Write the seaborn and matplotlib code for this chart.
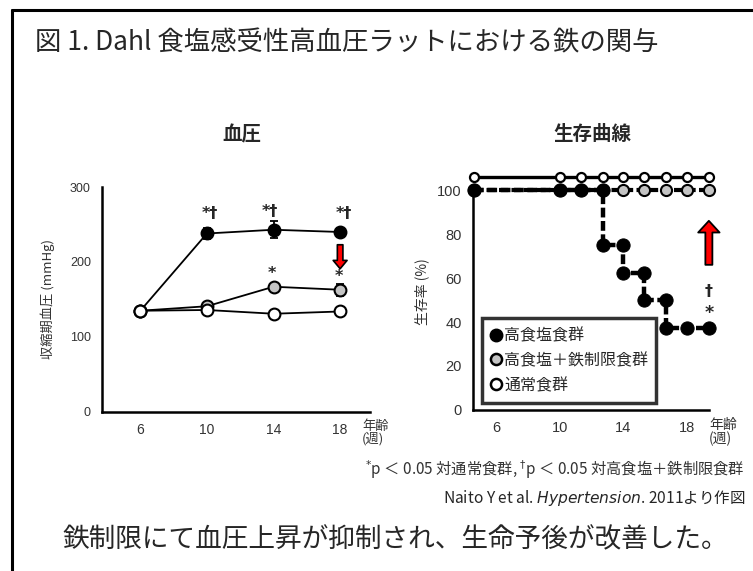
import matplotlib
matplotlib.use("Agg")
import matplotlib.pyplot as plt
import seaborn as sns
from matplotlib.lines import Line2D

sns.set_style("white")
plt.rcParams["font.family"] = ["Noto Sans CJK JP", "DejaVu Sans"]

# 血圧 (mmHg, mean and error)
bp_weeks = [6, 10, 14, 18]
bp_high_salt = [135, 238, 243, 240]
bp_high_salt_err = [2, 7, 11, 5]
bp_iron_restrict = [135, 141, 167, 163]
bp_iron_restrict_err = [2, 3, 3, 8]
bp_normal = [135, 136, 131, 134]
bp_normal_err = [1, 1, 1, 1]

# 生存曲線 (%)
surv_high_salt_weeks = [4.6, 10, 11.3, 12.7, 12.7, 14, 14, 15.3, 15.3, 16.7, 16.7, 18, 19.4]
surv_high_salt = [100, 100, 100, 100, 75, 75, 62.5, 62.5, 50, 50, 37.5, 37.5, 37.5]
surv_iron_weeks = [4.6, 10, 11.3, 12.7, 14, 15.3, 16.7, 18, 19.4]
surv_iron = [100, 100, 100, 100, 100, 100, 100, 100, 100]
surv_normal_weeks = [4.6, 10, 11.3, 12.7, 14, 15.3, 16.7, 18, 19.4]
surv_normal = [100, 100, 100, 100, 100, 100, 100, 100, 100]
normal_offset = 6  # drawn slightly above so it does not hide the other lines

group_labels = ["高食塩食群", "高食塩＋鉄制限食群", "通常食群"]
gray = "#c4c4c4"
tick_font = "Liberation Sans"

fig = plt.figure(figsize=(7.53, 5.71), dpi=100)

# frame lines of the slide
fig.add_artist(Line2D([12 / 753, 1], [1 - 10 / 571, 1 - 10 / 571], color="black", lw=2.2))
fig.add_artist(Line2D([12 / 753, 12 / 753], [0, 1 - 10 / 571], color="black", lw=2.2))

fig.text(35 / 753, 0.925, "図 1. Dahl 食塩感受性高血圧ラットにおける鉄の関与",
         fontsize=19, va="center", ha="left")
fig.text(242 / 753, 1 - 135 / 571, "血圧", fontsize=14, fontweight="bold", ha="center", va="center")
fig.text(592 / 753, 1 - 135 / 571, "生存曲線", fontsize=14, fontweight="bold", ha="center", va="center")

# ---- left: blood pressure
ax1 = fig.add_axes([0.1355, 0.2785, 0.356, 0.394])
for vals, errs, face, z in [
    (bp_high_salt, bp_high_salt_err, "black", 3),
    (bp_iron_restrict, bp_iron_restrict_err, gray, 4),
    (bp_normal, bp_normal_err, "white", 5),
]:
    ax1.errorbar(bp_weeks, vals, yerr=errs, fmt="none", ecolor="black",
                 elinewidth=1.3, capsize=3, capthick=1.3, zorder=z)
    sns.lineplot(x=bp_weeks, y=vals, ax=ax1, color="black", linewidth=1.3,
                 marker="o", markersize=8.5, markerfacecolor=face,
                 markeredgecolor="black", markeredgewidth=1.5, zorder=z)

ax1.set_xlim(3.7, 19.8)
ax1.set_ylim(0, 300)
ax1.set_xticks(bp_weeks)
ax1.set_yticks([0, 100, 200, 300])
ax1.set_ylabel("収縮期血圧 (mmHg)", fontsize=9.5, color="#333333", labelpad=11)
for lab in ax1.get_xticklabels():
    lab.set_fontfamily(tick_font)
    lab.set_fontsize(10)
for lab in ax1.get_yticklabels():
    lab.set_fontfamily(tick_font)
    lab.set_fontsize(9)
ax1.text(0.97, -0.035, "年齢\n(週)", transform=ax1.transAxes, fontsize=9.5,
         ha="left", va="top", linespacing=0.95, color="#333333")

for x, y, s in [(10.15, 265, "*†"), (13.8, 267, "*†"), (18.2, 264, "*†"),
                (13.9, 184, "*"), (17.9, 180, "*")]:
    ax1.text(x, y, s, fontsize=11.5, fontweight="bold", family="DejaVu Sans",
             ha="center", va="center")
ax1.annotate("", xy=(18, 191), xytext=(18, 223),
             arrowprops=dict(arrowstyle="simple,head_length=0.6,head_width=1.0,tail_width=0.4",
                             fc="red", ec="black", lw=1.2, mutation_scale=10,
                             shrinkA=0, shrinkB=0))

# ---- right: survival
ax2 = fig.add_axes([0.628, 0.282, 0.3134, 0.416])
sns.lineplot(x=surv_iron_weeks, y=surv_iron, ax=ax2, color="black", linewidth=3,
             linestyle=(0, (2.2, 0.8)), marker="o", markersize=8, markerfacecolor=gray,
             markeredgecolor="black", markeredgewidth=1.5, zorder=3, clip_on=False)
sns.lineplot(x=surv_high_salt_weeks, y=surv_high_salt, ax=ax2, color="black",
             linewidth=3.2, linestyle=(0, (2.2, 0.8)), marker="o", markersize=9.5,
             markerfacecolor="black", markeredgecolor="black", estimator=None,
             sort=False, zorder=4, clip_on=False)
sns.lineplot(x=surv_normal_weeks, y=[v + normal_offset for v in surv_normal], ax=ax2,
             color="black", linewidth=2.4, marker="o", markersize=6.5,
             markerfacecolor="white", markeredgecolor="black", markeredgewidth=1.6,
             zorder=5, clip_on=False)

ax2.set_xlim(4.5, 19.4)
ax2.set_ylim(0, 108)
ax2.spines["left"].set_bounds(0, 100)
ax2.set_xticks([6, 10, 14, 18])
ax2.set_yticks([0, 20, 40, 60, 80, 100])
ax2.set_ylabel("生存率 (%)", fontsize=10, color="#333333", labelpad=6)
for lab in ax2.get_xticklabels() + ax2.get_yticklabels():
    lab.set_fontfamily(tick_font)
    lab.set_fontsize(10.5)
ax2.text(1.0, -0.035, "年齢\n(週)", transform=ax2.transAxes, fontsize=10,
         ha="left", va="top", linespacing=0.95, color="#333333")

ax2.text(19.4, 54, "†", fontsize=11.5, fontweight="bold", family="DejaVu Sans",
         ha="center", va="center")
ax2.text(19.4, 44, "*", fontsize=12.5, fontweight="bold", family="DejaVu Sans",
         ha="center", va="center")
ax2.annotate("", xy=(19.4, 86), xytext=(19.4, 66),
             arrowprops=dict(arrowstyle="simple,head_length=0.6,head_width=1.1,tail_width=0.36",
                             fc="red", ec="black", lw=1.3, mutation_scale=14,
                             shrinkA=0, shrinkB=0))

handles = [
    Line2D([], [], linestyle="none", marker="o", markersize=9, markerfacecolor="black",
           markeredgecolor="black"),
    Line2D([], [], linestyle="none", marker="o", markersize=8, markerfacecolor=gray,
           markeredgecolor="black", markeredgewidth=1.8),
    Line2D([], [], linestyle="none", marker="o", markersize=8, markerfacecolor="white",
           markeredgecolor="black", markeredgewidth=1.8),
]
leg = ax2.legend(handles, group_labels, loc="lower left",
                 bbox_to_anchor=(0.038, 0.03, 0.74, 0.37), mode="expand",
                 borderaxespad=0, frameon=True, fancybox=False, fontsize=11.5,
                 handlelength=0.7, handletextpad=0.15, labelspacing=0.5,
                 borderpad=0.55)
leg.get_frame().set_edgecolor("black")
leg.get_frame().set_linewidth(2.5)
leg.set_zorder(10)

for ax in (ax1, ax2):
    sns.despine(ax=ax)
    for side in ("left", "bottom"):
        ax.spines[side].set_color("black")
        ax.spines[side].set_linewidth(1.8)
    ax.tick_params(length=3, width=1.5, direction="out", color="black",
                   labelcolor="#333333", pad=5)

fig.text(745 / 753, 1 - 470 / 571,
         r"$^{*}$p ＜ 0.05 対通常食群, $^{\dagger}$p ＜ 0.05 対高食塩＋鉄制限食群",
         fontsize=11, ha="right", va="center", color="#333333")
fig.text(745 / 753, 1 - 498 / 571,
         r"Naito Y et al. $\mathit{Hypertension}$. 2011より作図",
         fontsize=11.2, ha="right", va="center")
fig.text(62 / 753, 1 - 540 / 571, "鉄制限にて血圧上昇が抑制され、生命予後が改善した。",
         fontsize=19.2, ha="left", va="center")

fig.savefig("out.png", dpi=100)
